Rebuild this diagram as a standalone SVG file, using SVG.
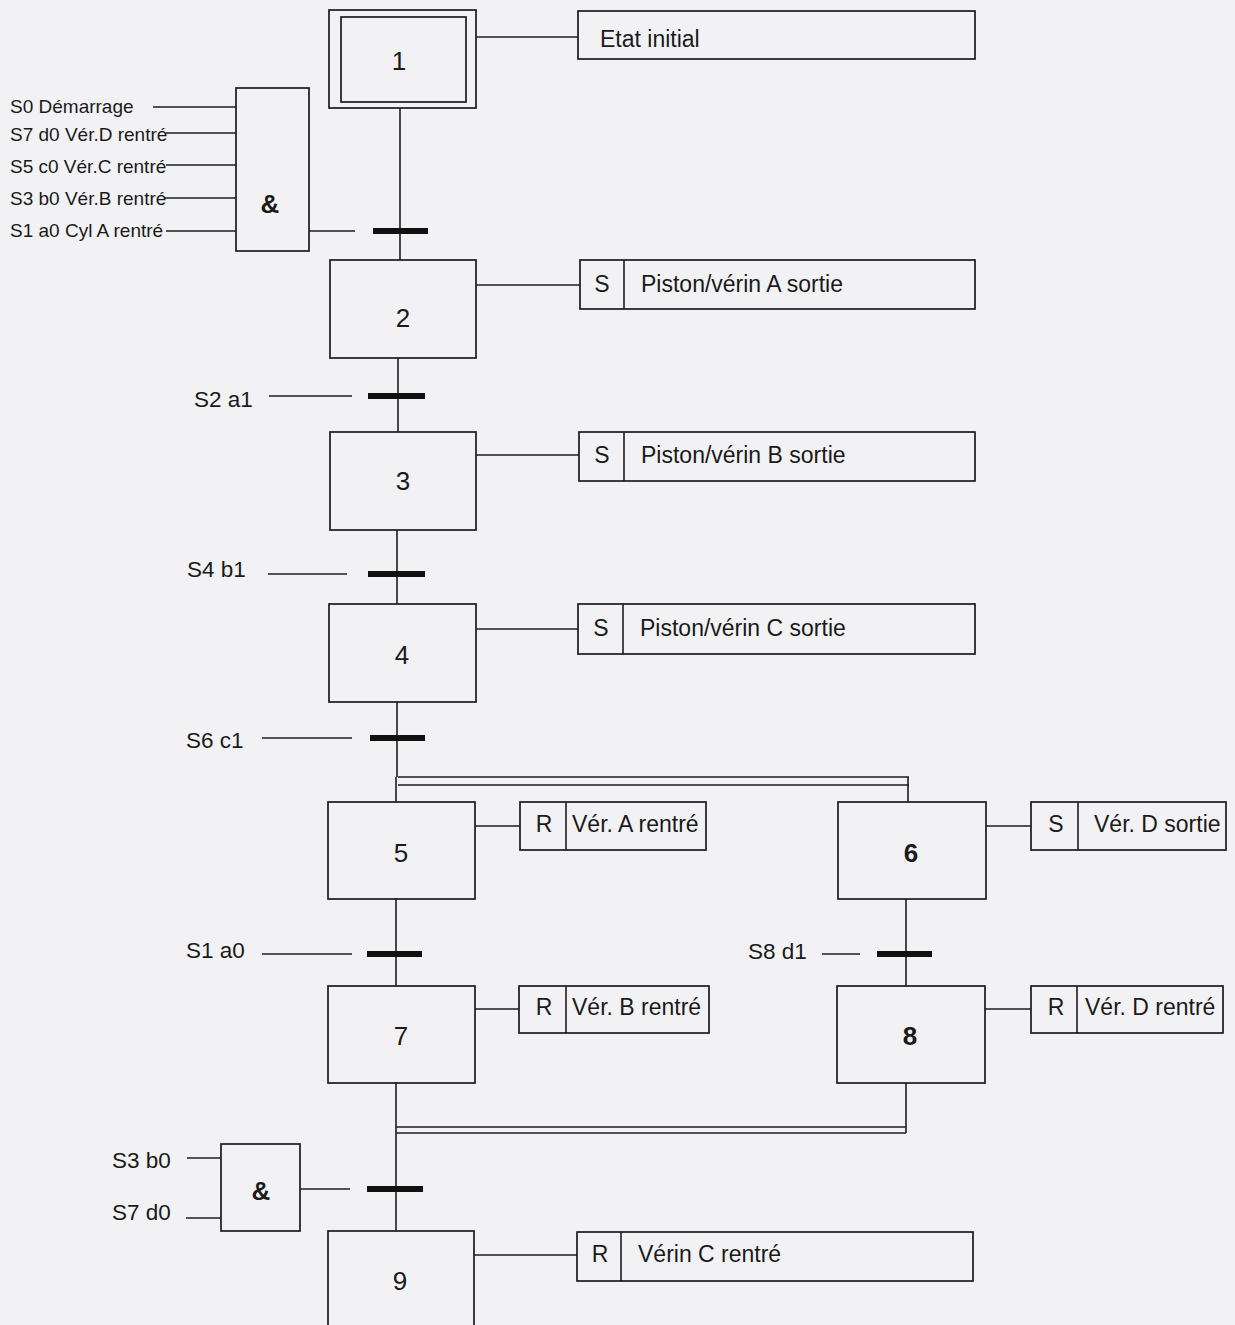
<svg xmlns="http://www.w3.org/2000/svg" width="1235" height="1325" viewBox="0 0 1235 1325">
<style>
.bg{fill:#f2f2f4}
.box{fill:none;stroke:#1c1c1c;stroke-width:1.7}
.ln{fill:none;stroke:#1c1c1c;stroke-width:1.6}
.bar{stroke:#111;stroke-width:6}
.t{font-family:"Liberation Sans",Arial,sans-serif;fill:#1a1a1a}
.num{font-size:26px;text-anchor:middle}
.act{font-size:23px}
.lbl{font-size:22.5px}
.sm{font-size:19px}
.amp{font-size:26px;font-weight:bold;text-anchor:middle}
</style>
<rect class="bg" x="0" y="0" width="1235" height="1325"/>

<g id="connectors">
  <line class="ln" x1="400" y1="108" x2="400" y2="260"/>
  <line class="ln" x1="398" y1="358" x2="398" y2="432"/>
  <line class="ln" x1="397" y1="530" x2="397" y2="604"/>
  <line class="ln" x1="397" y1="702" x2="397" y2="777"/>
  <line class="ln" x1="396" y1="777" x2="396" y2="802"/>
  <line class="ln" x1="396" y1="898" x2="396" y2="986"/>
  <line class="ln" x1="396" y1="1082" x2="396" y2="1231"/>
  <line class="ln" x1="398" y1="777" x2="909" y2="777"/>
  <line class="ln" x1="398" y1="785" x2="909" y2="785"/>
  <line class="ln" x1="908" y1="777" x2="908" y2="802"/>
  <line class="ln" x1="906" y1="899" x2="906" y2="986"/>
  <line class="ln" x1="906" y1="1083" x2="906" y2="1133"/>
  <line class="ln" x1="396" y1="1127" x2="906" y2="1127"/>
  <line class="ln" x1="396" y1="1133" x2="906" y2="1133"/>
  <line class="ln" x1="476" y1="37" x2="578" y2="37"/>
  <line class="ln" x1="476" y1="285" x2="580" y2="285"/>
  <line class="ln" x1="476" y1="455" x2="579" y2="455"/>
  <line class="ln" x1="476" y1="629" x2="578" y2="629"/>
  <line class="ln" x1="475" y1="826" x2="520" y2="826"/>
  <line class="ln" x1="475" y1="1009" x2="519" y2="1009"/>
  <line class="ln" x1="986" y1="826" x2="1031" y2="826"/>
  <line class="ln" x1="985" y1="1009" x2="1031" y2="1009"/>
  <line class="ln" x1="474" y1="1255" x2="577" y2="1255"/>
  <line class="ln" x1="153" y1="107" x2="236" y2="107"/>
  <line class="ln" x1="166" y1="133" x2="236" y2="133"/>
  <line class="ln" x1="166" y1="165" x2="236" y2="165"/>
  <line class="ln" x1="165" y1="198" x2="236" y2="198"/>
  <line class="ln" x1="166" y1="231" x2="236" y2="231"/>
  <line class="ln" x1="309" y1="231" x2="355" y2="231"/>
  <line class="ln" x1="269" y1="396" x2="352" y2="396"/>
  <line class="ln" x1="268" y1="574" x2="347" y2="574"/>
  <line class="ln" x1="262" y1="738" x2="352" y2="738"/>
  <line class="ln" x1="262" y1="954" x2="352" y2="954"/>
  <line class="ln" x1="822" y1="954" x2="860" y2="954"/>
  <line class="ln" x1="187" y1="1158" x2="221" y2="1158"/>
  <line class="ln" x1="186" y1="1218" x2="221" y2="1218"/>
  <line class="ln" x1="300" y1="1189" x2="350" y2="1189"/>
</g>

<g id="transitions">
  <line class="bar" x1="373" y1="231" x2="428" y2="231"/>
  <line class="bar" x1="368" y1="396" x2="425" y2="396"/>
  <line class="bar" x1="368" y1="574" x2="425" y2="574"/>
  <line class="bar" x1="370" y1="738" x2="425" y2="738"/>
  <line class="bar" x1="367" y1="954" x2="422" y2="954"/>
  <line class="bar" x1="877" y1="954" x2="932" y2="954"/>
  <line class="bar" x1="367" y1="1189" x2="423" y2="1189"/>
  <text class="t lbl" x="194" y="407">S2 a1</text>
  <text class="t lbl" x="187" y="577">S4 b1</text>
  <text class="t lbl" x="186" y="748">S6 c1</text>
  <text class="t lbl" x="186" y="958">S1 a0</text>
  <text class="t lbl" x="748" y="959">S8 d1</text>
</g>

<g id="step1">
  <rect class="box" x="329" y="10" width="147" height="98"/>
  <rect class="box" x="341" y="17" width="125" height="85"/>
  <text class="t num" x="399" y="70" font-size="28">1</text>
</g>
<g id="action1">
  <rect class="box" x="578" y="11" width="397" height="48"/>
  <text class="t act" x="600" y="47">Etat initial</text>
</g>

<g id="gate1">
  <rect class="box" x="236" y="88" width="73" height="163"/>
  <text class="t amp" x="270" y="213">&amp;</text>
  <text class="t sm" x="10" y="113">S0 Démarrage</text>
  <text class="t sm" x="10" y="141">S7 d0 Vér.D rentré</text>
  <text class="t sm" x="10" y="173">S5 c0 Vér.C rentré</text>
  <text class="t sm" x="10" y="205">S3 b0 Vér.B rentré</text>
  <text class="t sm" x="10" y="237">S1 a0 Cyl A rentré</text>
</g>

<g id="step2">
  <rect class="box" x="330" y="260" width="146" height="98"/>
  <text class="t num" x="403" y="327">2</text>
</g>
<g id="action2">
  <rect class="box" x="580" y="260" width="395" height="49"/>
  <line class="ln" x1="624" y1="260" x2="624" y2="309"/>
  <text class="t act" x="602" y="292" text-anchor="middle">S</text>
  <text class="t act" x="641" y="292">Piston/vérin A sortie</text>
</g>

<g id="step3">
  <rect class="box" x="330" y="432" width="146" height="98"/>
  <text class="t num" x="403" y="490">3</text>
</g>
<g id="action3">
  <rect class="box" x="579" y="432" width="396" height="49"/>
  <line class="ln" x1="624" y1="432" x2="624" y2="481"/>
  <text class="t act" x="602" y="463" text-anchor="middle">S</text>
  <text class="t act" x="641" y="463">Piston/vérin B sortie</text>
</g>

<g id="step4">
  <rect class="box" x="329" y="604" width="147" height="98"/>
  <text class="t num" x="402" y="664">4</text>
</g>
<g id="action4">
  <rect class="box" x="578" y="604" width="397" height="50"/>
  <line class="ln" x1="623" y1="604" x2="623" y2="654"/>
  <text class="t act" x="601" y="636" text-anchor="middle">S</text>
  <text class="t act" x="640" y="636">Piston/vérin C sortie</text>
</g>

<g id="step5">
  <rect class="box" x="328" y="802" width="147" height="97"/>
  <text class="t num" x="401" y="862">5</text>
</g>
<g id="action5">
  <rect class="box" x="520" y="802" width="186" height="48"/>
  <line class="ln" x1="566" y1="802" x2="566" y2="850"/>
  <text class="t act" x="544" y="832" text-anchor="middle">R</text>
  <text class="t act" x="572" y="832">Vér. A rentré</text>
</g>

<g id="step6">
  <rect class="box" x="838" y="802" width="148" height="97"/>
  <text class="t num" x="911" y="862" font-weight="bold">6</text>
</g>
<g id="action6">
  <rect class="box" x="1031" y="802" width="195" height="48"/>
  <line class="ln" x1="1078" y1="802" x2="1078" y2="850"/>
  <text class="t act" x="1056" y="832" text-anchor="middle">S</text>
  <text class="t act" x="1094" y="832">Vér. D sortie</text>
</g>

<g id="step7">
  <rect class="box" x="328" y="986" width="147" height="97"/>
  <text class="t num" x="401" y="1045">7</text>
</g>
<g id="action7">
  <rect class="box" x="519" y="986" width="190" height="47"/>
  <line class="ln" x1="566" y1="986" x2="566" y2="1033"/>
  <text class="t act" x="544" y="1015" text-anchor="middle">R</text>
  <text class="t act" x="572" y="1015">Vér. B rentré</text>
</g>

<g id="step8">
  <rect class="box" x="837" y="986" width="148" height="97"/>
  <text class="t num" x="910" y="1045" font-weight="bold">8</text>
</g>
<g id="action8">
  <rect class="box" x="1031" y="986" width="192" height="47"/>
  <line class="ln" x1="1077" y1="986" x2="1077" y2="1033"/>
  <text class="t act" x="1056" y="1015" text-anchor="middle">R</text>
  <text class="t act" x="1085" y="1015">Vér. D rentré</text>
</g>

<g id="gate2">
  <rect class="box" x="221" y="1144" width="79" height="87"/>
  <text class="t amp" x="261" y="1200">&amp;</text>
  <text class="t lbl" x="112" y="1168">S3 b0</text>
  <text class="t lbl" x="112" y="1220">S7 d0</text>
</g>

<g id="step9">
  <rect class="box" x="328" y="1231" width="146" height="110"/>
  <text class="t num" x="400" y="1290">9</text>
</g>
<g id="action9">
  <rect class="box" x="577" y="1232" width="396" height="49"/>
  <line class="ln" x1="621" y1="1232" x2="621" y2="1281"/>
  <text class="t act" x="600" y="1262" text-anchor="middle">R</text>
  <text class="t act" x="638" y="1262">Vérin C rentré</text>
</g>
</svg>
